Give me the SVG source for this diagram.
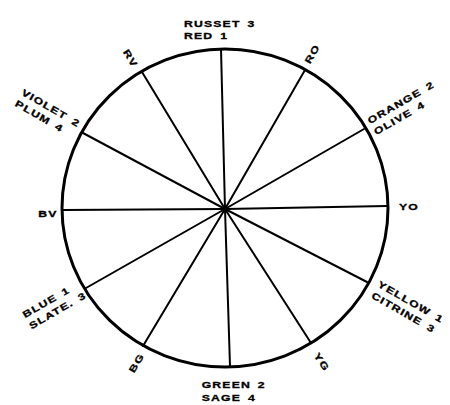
<svg xmlns="http://www.w3.org/2000/svg" width="450" height="405" viewBox="0 0 450 405">
<style>
.lbl{font-family:"Liberation Sans",Arial,sans-serif;font-weight:bold;font-size:9.4px;letter-spacing:0.9px;word-spacing:1.8px;fill:#000;stroke:#000;stroke-width:0.3}
.spoke{stroke:#000;stroke-width:2;stroke-linecap:round}
.rim{fill:none;stroke:#000;stroke-width:3}
</style>
<rect width="450" height="405" fill="#fff"/>
<g id="wheel">
<ellipse class="rim" cx="225" cy="208" rx="163" ry="159"/>
</g>
<g id="spokes">
<line class="spoke" x1="225" y1="209" x2="221" y2="49"/>
<line class="spoke" x1="225" y1="209" x2="305" y2="70"/>
<line class="spoke" x1="225" y1="209" x2="364" y2="129"/>
<line class="spoke" x1="225" y1="209" x2="387" y2="206"/>
<line class="spoke" x1="225" y1="209" x2="367" y2="282"/>
<line class="spoke" x1="225" y1="209" x2="311" y2="343"/>
<line class="spoke" x1="225" y1="209" x2="230" y2="366"/>
<line class="spoke" x1="225" y1="209" x2="143" y2="346"/>
<line class="spoke" x1="225" y1="209" x2="86" y2="288"/>
<line class="spoke" x1="225" y1="209" x2="63" y2="210"/>
<line class="spoke" x1="225" y1="209" x2="83" y2="133"/>
<line class="spoke" x1="225" y1="209" x2="142" y2="72"/>
</g>
<g id="label-red">
<text class="lbl" transform="translate(184,26.7) scale(1.3,1)">RUSSET 3</text>
<text class="lbl" transform="translate(184,39.3) scale(1.3,1)">RED 1</text>
</g>
<g id="label-ro">
<text class="lbl" transform="translate(310,64.4) rotate(-60) scale(1.3,1)">RO</text>
</g>
<g id="label-orange">
<g transform="translate(369.9,124.2) rotate(-30)">
<text class="lbl" transform="scale(1.3,1)">ORANGE 2</text>
<text class="lbl" transform="translate(0,12.8) scale(1.3,1)">OLIVE 4</text>
</g>
</g>
<g id="label-yo">
<text class="lbl" transform="translate(399,210) scale(1.3,1)">YO</text>
</g>
<g id="label-yellow">
<g transform="translate(377.1,286.3) rotate(30)">
<text class="lbl" transform="scale(1.3,1)">YELLOW 1</text>
<text class="lbl" transform="translate(0,12.8) scale(1.3,1)">CITRINE 3</text>
</g>
</g>
<g id="label-yg">
<text class="lbl" transform="translate(313.6,355.5) rotate(57) scale(1.3,1)">YG</text>
</g>
<g id="label-green">
<text class="lbl" transform="translate(201.7,387.7) scale(1.3,1)">GREEN 2</text>
<text class="lbl" transform="translate(201.7,400.5) scale(1.3,1)">SAGE 4</text>
</g>
<g id="label-bg">
<text class="lbl" transform="translate(134.1,373.4) rotate(-59) scale(1.3,1)">BG</text>
</g>
<g id="label-blue">
<g transform="translate(25,318.3) rotate(-30)">
<text class="lbl" transform="scale(1.3,1)">BLUE 1</text>
<text class="lbl" transform="translate(0,12.8) scale(1.3,1)">SLATE. 3</text>
</g>
</g>
<g id="label-bv">
<text class="lbl" transform="translate(38.3,216.7) scale(1.3,1)">BV</text>
</g>
<g id="label-violet">
<g transform="translate(20.75,94.4) rotate(30)">
<text class="lbl" transform="scale(1.3,1)">VIOLET 2</text>
<text class="lbl" transform="translate(0,12.8) scale(1.3,1)">PLUM 4</text>
</g>
</g>
<g id="label-rv">
<text class="lbl" transform="translate(122.7,52.1) rotate(58) scale(1.3,1)">RV</text>
</g>
</svg>
